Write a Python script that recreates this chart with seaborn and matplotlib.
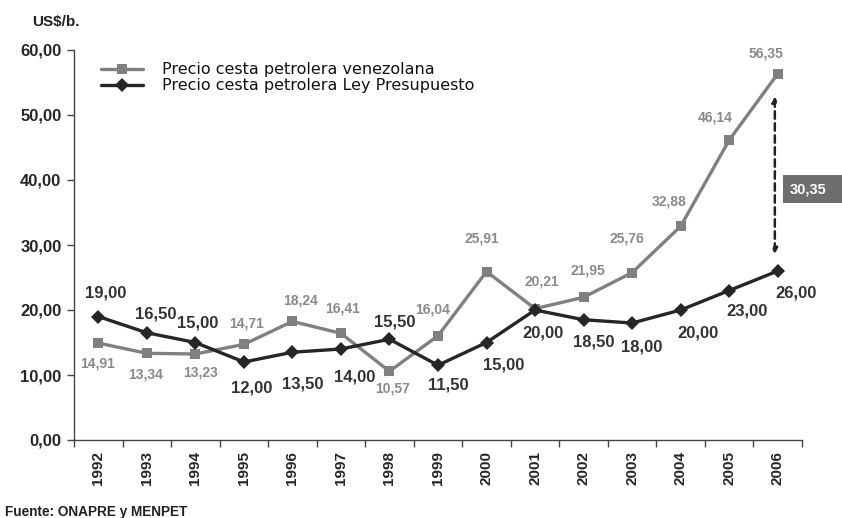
import matplotlib
matplotlib.use("Agg")
import matplotlib.pyplot as plt
import pandas as pd
import seaborn as sns
from matplotlib.patches import Rectangle

years = [str(y) for y in range(1992, 2007)]
precio_venezolana = [14.91, 13.34, 13.23, 14.71, 18.24, 16.41, 10.57, 16.04,
                     25.91, 20.21, 21.95, 25.76, 32.88, 46.14, 56.35]
precio_ley = [19.00, 16.50, 15.00, 12.00, 13.50, 14.00, 15.50, 11.50,
              15.00, 20.00, 18.50, 18.00, 20.00, 23.00, 26.00]
serie_names = ["Precio cesta petrolera venezolana",
               "Precio cesta petrolera Ley Presupuesto"]
y_ticks = [0, 10, 20, 30, 40, 50, 60]
diferencia = "30,35"

# label offsets in pixels (dx, dy up) relative to each point
off_venez = [(-1, -20), (-1, -21), (5, -18), (3, 21), (8, 21), (2, 25), (3, -17),
             (-5, 26), (-5, 33), (7, 27), (4, 27), (-5, 34), (-12, 25), (-14, 23),
             (-12, 20)]
off_ley = [(7, 23), (9, 19), (2, 19), (8, -26), (10, -32), (14, -28), (5, 17),
           (10, -20), (17, -23), (8, -23), (10, -22), (10, -24), (17, -23),
           (18, -20), (18, -22)]

GRAY = "#808080"
DARK = "#262626"

df = pd.DataFrame({"year": years * 2,
                   "precio": precio_venezolana + precio_ley,
                   "serie": [serie_names[0]] * len(years) + [serie_names[1]] * len(years)})

sns.set_style("white")
plt.rcParams["font.family"] = ["Liberation Sans", "DejaVu Sans"]

fig = plt.figure(figsize=(8.42, 5.18), dpi=100)
ax = fig.add_axes([74 / 842, 78 / 518, 728 / 842, 390 / 518])

sns.lineplot(data=df, x="year", y="precio", hue="serie", style="serie",
             palette=[GRAY, DARK], markers=["s", "D"], dashes=False,
             markersize=7, linewidth=2.4, markeredgewidth=0, sort=False, ax=ax)

def fmt(v):
    return f"{v:.2f}".replace(".", ",")

px = 0.72
for i, v in enumerate(precio_venezolana):
    dx, dy = off_venez[i]
    ax.annotate(fmt(v), (i, v), xytext=(dx * px, dy * px), textcoords="offset points",
                ha="center", va="center", fontsize=10, fontweight="bold", color="#8a8a8a")
for i, v in enumerate(precio_ley):
    dx, dy = off_ley[i]
    ax.annotate(fmt(v), (i, v), xytext=(dx * px, dy * px), textcoords="offset points",
                ha="center", va="center", fontsize=12, fontweight="bold", color="#333333")

# difference arrow 2006
last = len(years) - 1
ax.annotate("", xy=(last - 0.06, precio_ley[-1] + 2.6), xytext=(last - 0.06, precio_venezolana[-1] - 3.5),
            arrowprops=dict(arrowstyle="<|-|>", linestyle=(0, (3, 1.8)), color="#222222",
                            lw=1.8, mutation_scale=8, shrinkA=0, shrinkB=0))
fig.patches.append(Rectangle((783 / 842, 315 / 518), 59 / 842, 28 / 518,
                             transform=fig.transFigure, facecolor="#6e6e6e",
                             edgecolor="none"))
fig.text(808 / 842, 329 / 518, diferencia, ha="center", va="center",
         fontsize=10.5, fontweight="bold", color="white")

ax.set_xlim(-0.5, len(years) - 0.5)
ax.set_ylim(0, 60)
ax.set_yticks(y_ticks)
ax.set_yticklabels([fmt(t) for t in y_ticks], fontsize=12, fontweight="bold")
ax.set_xticks(range(len(years)))
ax.set_xticklabels(years, rotation=90, fontsize=11, fontweight="bold")
ax.set_xticks([i - 0.5 for i in range(len(years) + 1)], minor=True)
ax.tick_params(axis="x", which="major", length=0, pad=8)
ax.tick_params(axis="x", which="minor", length=5, width=1, color="#444444", direction="out", bottom=True)
ax.tick_params(axis="y", length=5, width=1, color="#444444", direction="out", left=True, pad=4)
ax.set_xlabel("")
ax.set_ylabel("")

for s in ["top", "right"]:
    ax.spines[s].set_visible(False)
for s in ["left", "bottom"]:
    ax.spines[s].set_color("#444444")
    ax.spines[s].set_linewidth(1)

leg = ax.legend(loc="upper left", bbox_to_anchor=(0.018, 1.005), frameon=False,
                handlelength=2.6, handletextpad=1.2, labelspacing=0.05,
                prop={"family": "DejaVu Sans", "size": 11.5})
for t in leg.get_texts():
    t.set_color("#111111")

fig.text(32 / 842, 1 - 22 / 518, "US$/b.", ha="left", va="center",
         fontsize=11, fontweight="bold", color="#222222")
fig.text(5 / 842, 1 - 512 / 518, "Fuente: ONAPRE y MENPET", ha="left", va="center",
         fontsize=9.8, fontweight="bold", color="#222222")

fig.savefig("out.png", dpi=100)
